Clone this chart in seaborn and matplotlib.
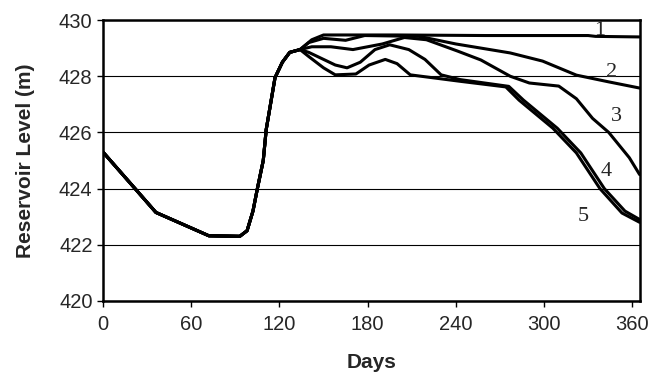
import numpy as np
import pandas as pd
import matplotlib
matplotlib.use("Agg")
import matplotlib.pyplot as plt
import seaborn as sns

# shared drawdown / refill part (all scenarios)
base_days = [0, 36, 72, 93, 98, 102, 105, 109, 111, 117, 122, 127, 134]
base_level = [425.3, 423.15, 422.32, 422.3, 422.5, 423.2, 424.0, 425.0, 426.1,
              427.95, 428.5, 428.85, 428.95]

# branches after day 134, one per scenario
c1_days = [142, 150, 200, 260, 330, 335, 365]
c1_level = [429.3, 429.47, 429.47, 429.45, 429.45, 429.42, 429.4]

c2_days = [140, 150, 165, 178, 215, 240, 277, 299, 322, 344, 365]
c2_level = [429.2, 429.35, 429.28, 429.45, 429.42, 429.15, 428.83, 428.54,
            428.04, 427.8, 427.58]

c3_days = [142, 155, 170, 190, 205, 220, 241, 257, 277, 290, 310, 322, 333,
           344, 358, 365]
c3_level = [429.05, 429.05, 428.95, 429.15, 429.38, 429.3, 428.9, 428.58, 428.0,
            427.76, 427.65, 427.2, 426.5, 426.0, 425.1, 424.5]

c4_days = [140, 150, 158, 166, 175, 185, 195, 208, 219, 230, 243, 265, 276,
           286, 309, 325, 341, 355, 365]
c4_level = [428.85, 428.6, 428.4, 428.3, 428.5, 428.95, 429.12, 428.95, 428.6,
            428.05, 427.88, 427.72, 427.64, 427.15, 426.15, 425.27, 424.0,
            423.2, 422.9]

c5_days = [140, 150, 158, 172, 181, 192, 200, 209, 243, 274, 283, 306, 322,
           338, 353, 365]
c5_level = [428.7, 428.3, 428.05, 428.08, 428.4, 428.6, 428.45, 428.05, 427.82,
            427.62, 427.15, 426.15, 425.27, 424.0, 423.13, 422.8]

labels = ["1", "2", "3", "4", "5"]
label_x = [338, 346, 349, 342, 327]
label_y = [429.64, 428.15, 426.55, 424.6, 423.0]

branches = [(c1_days, c1_level), (c2_days, c2_level), (c3_days, c3_level),
            (c4_days, c4_level), (c5_days, c5_level)]

frames = []
for lab, (d, l) in zip(labels, branches):
    frames.append(pd.DataFrame({"day": base_days + d,
                                "level": base_level + l,
                                "run": lab}))
df = pd.concat(frames, ignore_index=True)

sns.set_style("ticks")
plt.rcParams["font.family"] = ["Liberation Sans", "DejaVu Sans"]

fig, ax = plt.subplots(figsize=(6.52, 3.79), dpi=100)
fig.subplots_adjust(left=0.158, right=0.981, top=0.947, bottom=0.206)

ax.yaxis.grid(True, color="black", lw=0.8)
ax.set_axisbelow(True)

for lab in labels:
    sub = df[df["run"] == lab]
    sns.lineplot(data=sub, x="day", y="level", ax=ax, color="black", lw=2.2,
                 estimator=None, sort=False, legend=False)

for t, x, y in zip(labels, label_x, label_y):
    ax.text(x, y, t, fontsize=16, family="Liberation Serif",
            ha="center", va="center")

ax.set_xlim(0, 365)
ax.set_ylim(420, 430)
ax.set_xticks(range(0, 361, 60))
ax.set_yticks(range(420, 431, 2))
ax.tick_params(axis="both", labelsize=14.5, direction="out", length=4,
               width=1, color="black")
ax.tick_params(axis="x", pad=6)
for s in ax.spines.values():
    s.set_color("black")
    s.set_linewidth(1.8)

ax.set_xlabel("Days", fontsize=15, fontweight="bold", labelpad=14)
ax.set_ylabel("Reservoir Level (m)", fontsize=15, fontweight="bold", labelpad=17)

fig.savefig("out.png", dpi=100)
